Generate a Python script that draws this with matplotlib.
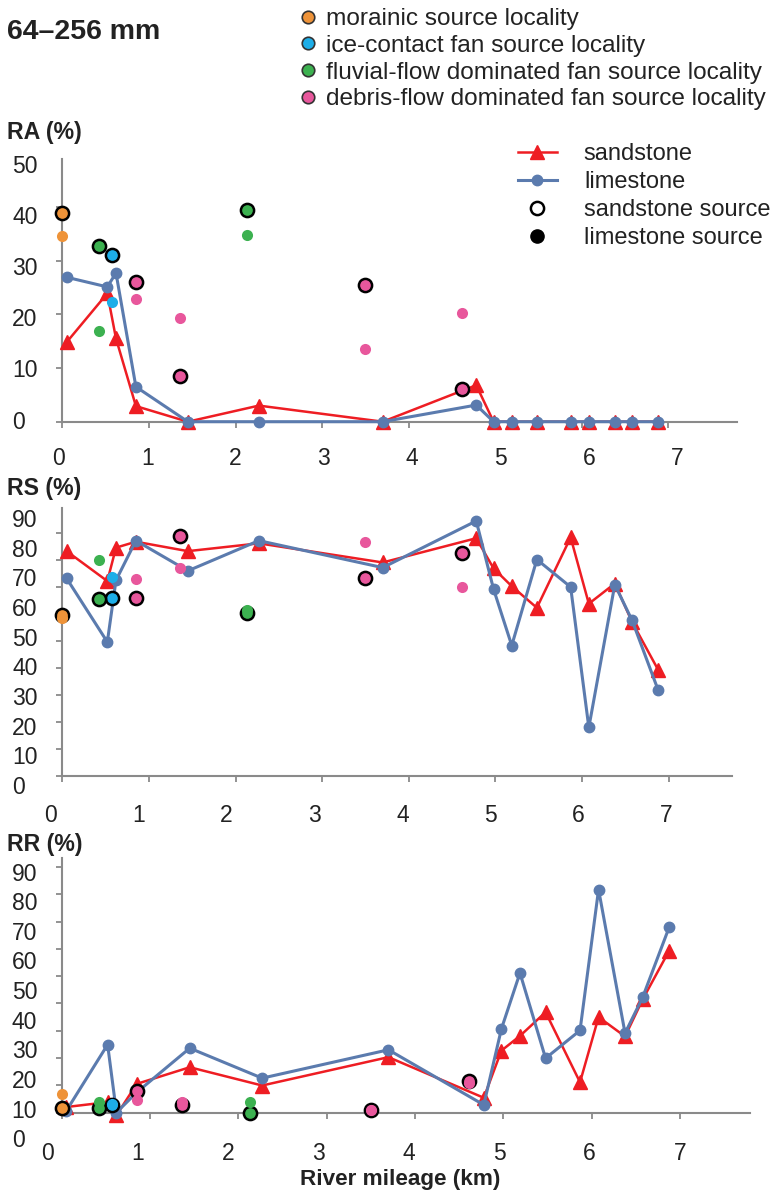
import matplotlib
matplotlib.use('Agg')
import matplotlib.pyplot as plt
from matplotlib.lines import Line2D

plt.rcParams['font.family'] = ['Liberation Sans', 'DejaVu Sans']

# river mileage of the sampled bars (km)
km = [0.05, 0.52, 0.62, 0.85, 1.45, 2.27, 3.70, 4.78, 4.98, 5.19, 5.48, 5.87, 6.08, 6.38, 6.58, 6.88]

ra_sandstone = [14.8, 23.9, 15.5, 2.9, 0, 3.0, 0, 6.8, 0, 0, 0, 0, 0, 0, 0, 0]
ra_limestone = [26.9, 25.1, 27.7, 6.5, 0, 0, 0, 3.1, 0, 0, 0, 0, 0, 0, 0, 0]
rs_sandstone = [83.4, 72.3, 84.7, 86.9, 83.4, 86.3, 79.2, 88.2, 77.0, 70.4, 62.4, 88.5, 63.9, 71.4, 57.1, 39.4]
rs_limestone = [73.3, 49.7, 72.6, 87.3, 76.1, 87.3, 77.3, 94.6, 69.3, 48.4, 80.3, 70.1, 18.0, 71.0, 57.7, 31.9]
rr_sandstone = [2.0, 3.8, -1.0, 10.5, 16.6, 9.9, 20.3, 5.4, 22.7, 28.1, 36.8, 11.1, 35.0, 27.9, 41.5, 59.4]
rr_limestone = [0.5, 24.9, 0, 7.4, 23.6, 12.6, 23.0, 2.8, 30.7, 51.2, 19.9, 30.1, 81.8, 29.1, 42.3, 68.0]

# source localities
locality_names = ['morainic source locality', 'ice-contact fan source locality',
                  'fluvial-flow dominated fan source locality', 'debris-flow dominated fan source locality']
locality_colors = ['#EE9339', '#1DAEE8', '#3CB150', '#E8579C']
src_km = [[0.0], [0.57], [0.42, 2.13], [0.85, 1.36, 3.50, 4.61]]
ra_src_sand = [[38.8], [31.0], [32.8, 39.5], [26.1, 8.5, 25.5, 6.0]]
ra_src_lime = [[34.6], [22.3], [16.8, 34.7], [22.8, 19.4, 13.5, 20.2]]
rs_src_sand = [[59.6], [66.2], [65.5, 60.6], [66.2, 89.0, 73.6, 82.6]]
rs_src_lime = [[58.7], [73.9], [80.1, 61.5], [72.9, 77.2, 86.9, 70.1]]
rr_src_sand = [[1.7], [2.9], [1.7, 0.0], [7.8, 2.8, 1.1, 11.7]]
rr_src_lime = [[6.8], [3.3], [3.8, 3.8], [4.5, 3.8, 1.0, 11.0]]

x_tick_labels = list(range(8))
ra_tick_labels = [0, 10, 20, 30, 40, 50]
rs_tick_labels = [0, 10, 20, 30, 40, 50, 60, 70, 80, 90]
rr_tick_labels = [0, 10, 20, 30, 40, 50, 60, 70, 80, 90]

RED = '#EE1D23'
BLUE = '#5B7BAE'
AXIS = '#8a8a8a'
TXT = '#222222'

W, H = 780, 1193
fig = plt.figure(figsize=(W / 100, H / 100), dpi=100)


def make_axes(x0, kmpx, y0, unitpx, xlim, ylim):
    # place an axes so that km 0 / value 0 land on given pixels
    left = x0 + xlim[0] * kmpx
    right = x0 + xlim[1] * kmpx
    bottom = y0 - ylim[0] * unitpx
    top = y0 - ylim[1] * unitpx
    ax = fig.add_axes([left / W, 1 - bottom / H, (right - left) / W, (bottom - top) / H])
    ax.set_xlim(xlim)
    ax.set_ylim(ylim)
    ax.patch.set_visible(False)
    return ax


def draw_panel(ax, sand, lime, src_sand, src_lime, yticks, ylabels, ylab_pos, xlab_pos, xpad):
    xmax = ax.get_xlim()[1]
    ymax = ax.get_ylim()[1]
    for s in ['top', 'right']:
        ax.spines[s].set_visible(False)
    for s in ['left', 'bottom']:
        ax.spines[s].set_position(('data', 0))
        ax.spines[s].set_color(AXIS)
        ax.spines[s].set_linewidth(1.5)
    ax.spines['left'].set_bounds(0, ymax)
    ax.spines['bottom'].set_bounds(0, xmax)

    ax.plot(km, sand, color=RED, lw=1.8, marker='^', ms=9.5, zorder=3, clip_on=False)
    ax.plot(km, lime, color=BLUE, lw=2.2, marker='o', ms=7.5, zorder=3, clip_on=False)
    for i in range(4):
        ax.plot(src_km[i], src_sand[i], ls='none', marker='o', ms=9.5, mfc=locality_colors[i],
                mec='black', mew=1.8, zorder=4, clip_on=False)
        ax.plot(src_km[i], src_lime[i], ls='none', marker='o', ms=8, mfc=locality_colors[i],
                mec='none', zorder=5, clip_on=False)

    ax.set_xticks(range(8))
    ax.set_yticks(yticks)
    ax.tick_params(which='major', direction='out', length=4, width=1.3, color=AXIS,
                   labelbottom=False, labelleft=False)
    # tick labels sit slightly off the tick marks in the original figure
    ax.xaxis.remove_overlapping_locs = False
    ax.yaxis.remove_overlapping_locs = False
    ax.set_xticks(xlab_pos, labels=[str(v) for v in x_tick_labels], minor=True)
    ax.set_yticks(ylab_pos, labels=[str(v) for v in ylabels], minor=True)
    ax.tick_params(which='minor', length=0, labelsize=16.5, labelcolor=TXT)
    ax.tick_params(axis='x', which='minor', pad=xpad)
    ax.tick_params(axis='y', which='minor', pad=36)
    for t in ax.get_yticklabels(minor=True):
        t.set_horizontalalignment('left')


ax_ra = make_axes(62.3, 86.6, 421.7, 5.37, (-0.7, 7.79), (-3, 49))
draw_panel(ax_ra, ra_sandstone, ra_limestone, ra_src_sand, ra_src_lime,
           [0, 10, 20, 30, 40], ra_tick_labels, [0.4 + 0.952 * v for v in ra_tick_labels],
           [-0.04 + 1.02 * v for v in x_tick_labels], 17.9)

ax_rs = make_axes(62.3, 86.6, 776, 2.696, (-0.7, 7.73), (-8, 99.3))
draw_panel(ax_rs, rs_sandstone, rs_limestone, rs_src_sand, rs_src_lime,
           list(range(0, 100, 10)), rs_tick_labels, [-3.3 + 1.099 * v for v in rs_tick_labels],
           [-0.14 + 1.017 * v for v in x_tick_labels], 20)

ax_rr = make_axes(61.7, 88.3, 1112.5, 2.726, (-0.7, 7.8), (-14, 93.4))
draw_panel(ax_rr, rr_sandstone, rr_limestone, rr_src_sand, rr_src_lime,
           list(range(0, 100, 10)), rr_tick_labels, [-9.4 + 1.086 * v for v in rr_tick_labels],
           [-0.16 + 1.023 * v for v in x_tick_labels], 21.5)

# titles
fig.text(7 / W, 1 - 31.7 / H, '64–256 mm', fontsize=20.5, fontweight='bold', color=TXT, va='center')
fig.text(7 / W, 1 - 132 / H, 'RA (%)', fontsize=16.7, fontweight='bold', color=TXT, va='center')
fig.text(7 / W, 1 - 488 / H, 'RS (%)', fontsize=16.7, fontweight='bold', color=TXT, va='center')
fig.text(7 / W, 1 - 845 / H, 'RR (%)', fontsize=16.7, fontweight='bold', color=TXT, va='center')
fig.text(400 / W, 1 - 1179 / H, 'River mileage (km)', fontsize=16.2, fontweight='bold', color=TXT,
         ha='center', va='center')

# locality legend
loc_handles = [Line2D([], [], ls='none', marker='o', ms=9, mfc=c, mec='#333333', mew=1.2)
               for c in locality_colors]
fig.legend(loc_handles, locality_names, loc='upper left', bbox_to_anchor=(298 / W, 1 - 8 / H),
           frameon=False, fontsize=17.6, handlelength=0.8, handletextpad=0.36, labelspacing=0.19,
           borderpad=0, borderaxespad=0, labelcolor=TXT)

# lithology legend
lith_handles = [
    Line2D([], [], color=RED, lw=1.8, marker='^', ms=9.5),
    Line2D([], [], color=BLUE, lw=2.2, marker='o', ms=7.5),
    Line2D([], [], ls='none', marker='o', ms=9.5, mfc='white', mec='black', mew=1.8),
    Line2D([], [], ls='none', marker='o', ms=9.5, mfc='black', mec='black'),
]
fig.legend(lith_handles, ['sandstone', 'limestone', 'sandstone source', 'limestone source'],
           loc='upper left', bbox_to_anchor=(518 / W, 1 - 143 / H), frameon=False, fontsize=17,
           handlelength=1.65, handletextpad=1.14, labelspacing=0.26, borderpad=0, borderaxespad=0,
           labelcolor=TXT)

fig.savefig('out.png', dpi=100)
